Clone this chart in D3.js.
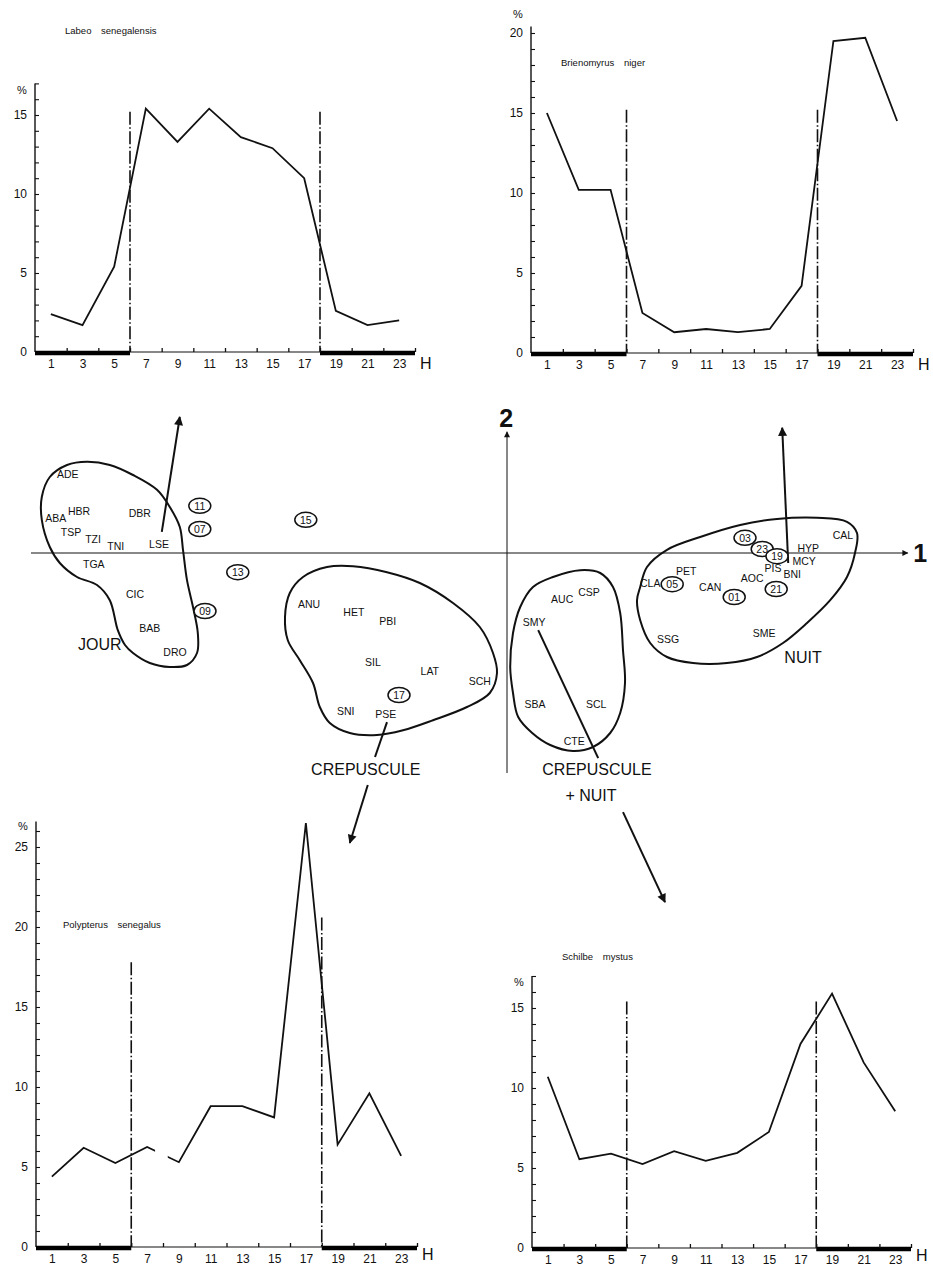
<!DOCTYPE html>
<html>
<head>
<meta charset="utf-8">
<script src="https://cdn.jsdelivr.net/npm/d3@7"></script>
<style>
  body { margin: 0; background: #fff; }
  svg { display: block; font-family: "Liberation Sans", Arial, sans-serif; }
</style>
</head>
<body>
<svg id="fig" width="933" height="1267"></svg>
<script>
"use strict";
// hourly activity, % of catch
const hours = [1, 3, 5, 7, 9, 11, 13, 15, 17, 19, 21, 23];
const evenHours = [2, 4, 6, 8, 10, 12, 14, 16, 18, 20, 22, 24];
const labeo = [2.4, 1.7, 5.4, 15.4, 13.3, 15.4, 13.6, 12.9, 11.0, 2.6, 1.7, 2.0];
const brienomyrus = [15.0, 10.2, 10.2, 2.5, 1.3, 1.5, 1.3, 1.5, 4.2, 19.5, 19.7, 14.5];
const polypterus = [4.4, 6.2, 5.25, 6.25, 5.3, 8.8, 8.8, 8.1, 26.5, 6.4, 9.6, 5.7];
const schilbe = [10.7, 5.55, 5.9, 5.25, 6.05, 5.45, 5.95, 7.25, 12.75, 15.9, 11.6, 8.55];
const polypterusGap = [7.5, 8.3]; // the trace is broken there in the original
const sunrise = 6, sunset = 18;

// factorial plane (axes 1 and 2): species codes
const species = [
  ["ADE", -1.098, 0.198], ["HBR", -1.07, 0.105], ["ABA", -1.128, 0.088], ["DBR", -0.918, 0.10],
  ["TSP", -1.09, 0.053], ["TZI", -1.035, 0.035], ["TNI", -0.978, 0.018], ["LSE", -0.87, 0.023],
  ["TGA", -1.033, -0.028], ["CIC", -0.93, -0.103], ["BAB", -0.893, -0.188], ["DRO", -0.83, -0.248],
  ["ANU", -0.495, -0.128], ["HET", -0.383, -0.148], ["PBI", -0.298, -0.17], ["SIL", -0.335, -0.273],
  ["LAT", -0.193, -0.295], ["SCH", -0.068, -0.32], ["SNI", -0.403, -0.395], ["PSE", -0.303, -0.403],
  ["AUC", 0.138, -0.115], ["CSP", 0.205, -0.098], ["SMY", 0.068, -0.173], ["SBA", 0.07, -0.378],
  ["SCL", 0.223, -0.378], ["CTE", 0.168, -0.47], ["CAL", 0.84, 0.045], ["HYP", 0.753, 0.013],
  ["MCY", 0.743, -0.02], ["PIS", 0.665, -0.038], ["BNI", 0.713, -0.053], ["AOC", 0.613, -0.063],
  ["PET", 0.448, -0.045], ["CLA", 0.358, -0.075], ["CAN", 0.508, -0.085], ["SSG", 0.403, -0.215],
  ["SME", 0.643, -0.2]
];
// hours projected as supplementary points
const hourPoints = [
  ["11", -0.768, 0.118], ["07", -0.768, 0.06], ["13", -0.673, -0.048], ["09", -0.755, -0.145],
  ["15", -0.503, 0.083], ["17", -0.27, -0.355], ["03", 0.595, 0.038], ["23", 0.638, 0.01],
  ["19", 0.675, -0.008], ["05", 0.413, -0.078], ["01", 0.568, -0.11], ["21", 0.673, -0.09]
];
// hand drawn group outlines
const jourOutline = [[-0.973, -0.193], [-0.993, -0.118], [-1.025, -0.08], [-1.075, -0.06], [-1.118, -0.025],
  [-1.143, 0.015], [-1.163, 0.083], [-1.163, 0.14], [-1.143, 0.19], [-1.10, 0.22], [-1.05, 0.228],
  [-0.993, 0.22], [-0.935, 0.195], [-0.875, 0.158], [-0.843, 0.115], [-0.818, 0.065], [-0.81, 0.008],
  [-0.80, -0.068], [-0.785, -0.135], [-0.773, -0.20], [-0.775, -0.25], [-0.80, -0.28], [-0.843, -0.285],
  [-0.893, -0.275], [-0.935, -0.25], [-0.955, -0.23]];
const crepOutline = [[-0.51, -0.06], [-0.45, -0.035], [-0.385, -0.033], [-0.30, -0.048], [-0.218, -0.075],
  [-0.135, -0.125], [-0.068, -0.185], [-0.035, -0.25], [-0.025, -0.30], [-0.043, -0.35], [-0.10, -0.385],
  [-0.185, -0.418], [-0.26, -0.443], [-0.325, -0.455], [-0.393, -0.45], [-0.443, -0.425], [-0.468, -0.385],
  [-0.485, -0.325], [-0.518, -0.268], [-0.548, -0.218], [-0.555, -0.16], [-0.543, -0.10]];
const nuitOutline = [[0.333, -0.085], [0.35, -0.035], [0.40, 0.008], [0.483, 0.04], [0.583, 0.07],
  [0.675, 0.085], [0.775, 0.088], [0.85, 0.078], [0.875, 0.05], [0.87, 0.0], [0.85, -0.06], [0.808, -0.118],
  [0.75, -0.175], [0.69, -0.225], [0.625, -0.26], [0.55, -0.275], [0.465, -0.275], [0.40, -0.26],
  [0.358, -0.225], [0.333, -0.168], [0.325, -0.118]];
const crepNuitOutline = [[0.065, -0.085], [0.115, -0.06], [0.183, -0.043], [0.233, -0.05], [0.265, -0.085],
  [0.283, -0.15], [0.29, -0.243], [0.295, -0.325], [0.283, -0.40], [0.258, -0.45], [0.215, -0.485],
  [0.165, -0.495], [0.108, -0.48], [0.063, -0.45], [0.028, -0.41], [0.015, -0.35], [0.008, -0.285],
  [0.015, -0.20], [0.033, -0.135]];
const groupLabels = [["JOUR", -1.018, -0.228], ["CREPUSCULE", -0.353, -0.54], ["NUIT", 0.74, -0.26],
  ["CREPUSCULE", 0.225, -0.54], ["+ NUIT", 0.21, -0.605]];
// leader lines from a species to its chart: [from, to, arrowhead]
const leaders = [
  [[-0.863, 0.053], [-0.818, 0.34], true],
  [[0.703, -0.025], [0.688, 0.313], true],
  [[-0.30, -0.423], [-0.33, -0.51], false],
  [[-0.348, -0.58], [-0.393, -0.725], true],
  [[0.078, -0.193], [0.228, -0.513], false],
  [[0.29, -0.648], [0.395, -0.873], true]
];

const svg = d3.select("#fig");
svg.append("rect").attr("width", 933).attr("height", 1267).attr("fill", "#fff");

const defs = svg.append("defs");
defs.append("marker").attr("id", "head")
  .attr("viewBox", "0 0 10 10").attr("refX", 9).attr("refY", 5)
  .attr("markerWidth", 12).attr("markerHeight", 9).attr("markerUnits", "userSpaceOnUse")
  .attr("orient", "auto")
  .append("path").attr("d", "M0,0L10,5L0,10Z").attr("fill", "#111");
defs.append("marker").attr("id", "axhead")
  .attr("viewBox", "0 0 10 10").attr("refX", 9).attr("refY", 5)
  .attr("markerWidth", 9).attr("markerHeight", 6).attr("markerUnits", "userSpaceOnUse")
  .attr("orient", "auto")
  .append("path").attr("d", "M0,0L10,5L0,10Z").attr("fill", "#111");

function hourChart(cfg) {
  const g = svg.append("g");
  const x = d3.scaleLinear().domain([0, 24]).range([cfg.left, cfg.right]);
  const y = d3.scaleLinear().domain([0, cfg.yTop]).range([cfg.base, cfg.base - cfg.yTop * cfg.unit]);

  // y axis: a tick per percent, labels every 5
  g.append("line").attr("x1", x(0)).attr("x2", x(0)).attr("y1", y(0)).attr("y2", y(cfg.yTop))
    .attr("stroke", "#111").attr("stroke-width", 1.4);
  const minor = g.append("g").attr("transform", `translate(${x(0)},0)`)
    .call(d3.axisRight(y).tickValues(d3.range(1, Math.floor(cfg.yTop) + 1)).tickSize(4).tickFormat(""));
  minor.select(".domain").remove();
  minor.selectAll("line").attr("stroke", "#111").attr("stroke-width", 1.1);
  const major = g.append("g").attr("transform", `translate(${x(0)},0)`)
    .call(d3.axisLeft(y).tickValues(cfg.labels).tickSize(0).tickPadding(8));
  major.select(".domain").remove();
  major.selectAll("text").attr("font-size", 12).attr("fill", "#111")
    .attr("font-family", "Liberation Sans, Arial, sans-serif");
  g.append("text").attr("x", x(0) - 18).attr("y", y(cfg.pct)).attr("dy", "0.35em")
    .attr("font-size", 11).attr("fill", "#111").text("%");

  // x axis: thin for daylight, thick black bars for night
  g.append("line").attr("x1", x(0)).attr("x2", x(24)).attr("y1", y(0)).attr("y2", y(0))
    .attr("stroke", "#111").attr("stroke-width", 1.1);
  [[0, sunrise], [sunset, 24]].forEach(([a, b]) => {
    g.append("line").attr("x1", x(a)).attr("x2", x(b)).attr("y1", y(0) + 1).attr("y2", y(0) + 1)
      .attr("stroke", "#000").attr("stroke-width", 4.5);
  });
  const xt = g.append("g").attr("transform", `translate(0,${y(0)})`)
    .call(d3.axisTop(x).tickValues(evenHours).tickSize(4).tickFormat(""));
  xt.select(".domain").remove();
  xt.selectAll("line").attr("stroke", "#111").attr("stroke-width", 1.3);
  const xl = g.append("g").attr("transform", `translate(0,${y(0)})`)
    .call(d3.axisBottom(x).tickValues(hours).tickSize(0).tickPadding(7));
  xl.select(".domain").remove();
  xl.selectAll("text").attr("font-size", 12).attr("fill", "#111")
    .attr("font-family", "Liberation Sans, Arial, sans-serif");
  g.append("text").attr("x", x(24) + 5).attr("y", y(0) + cfg.hDrop).attr("dy", "0.35em")
    .attr("font-size", 16).attr("fill", "#111").text("H");

  // sunrise / sunset
  [[sunrise, cfg.dashTop[0]], [sunset, cfg.dashTop[1]]].forEach(([h, top]) => {
    g.append("line").attr("x1", x(h)).attr("x2", x(h)).attr("y1", y(top)).attr("y2", y(0))
      .attr("stroke", "#111").attr("stroke-width", 1.6).attr("stroke-dasharray", "13,2.5,1.5,2.5");
  });

  g.append("text").attr("x", cfg.title[0]).attr("y", cfg.title[1]).attr("dy", "0.35em")
    .attr("font-size", 9.5).attr("fill", "#111").attr("word-spacing", 7).text(cfg.name);

  const pts = hours.map((h, i) => [h, cfg.values[i]]);
  const path = g.append("path").datum(pts)
    .attr("d", d3.line().x(d => x(d[0])).y(d => y(d[1])))
    .attr("fill", "none").attr("stroke", "#111").attr("stroke-width", 1.8)
    .attr("stroke-linejoin", "miter");
  if (cfg.gap) {
    const id = "clip" + cfg.left;
    const cp = defs.append("clipPath").attr("id", id);
    cp.append("rect").attr("x", 0).attr("y", 0).attr("width", x(cfg.gap[0])).attr("height", 1267);
    cp.append("rect").attr("x", x(cfg.gap[1])).attr("y", 0).attr("width", 933).attr("height", 1267);
    path.attr("clip-path", `url(#${id})`);
  }
}

hourChart({ name: "Labeo senegalensis", values: labeo, left: 35, right: 415, base: 352, unit: 15.8,
  yTop: 17, labels: [0, 5, 10, 15], pct: 16.6, dashTop: [15.2, 15.2], title: [65, 31], hDrop: 11 });
hourChart({ name: "Brienomyrus niger", values: brienomyrus, left: 531, right: 913, base: 353, unit: 16,
  yTop: 20.4, labels: [0, 5, 10, 15, 20], pct: 21.2, dashTop: [15.2, 15.2], title: [561, 63], hDrop: 11 });
hourChart({ name: "Polypterus senegalus", values: polypterus, left: 36, right: 417, base: 1247, unit: 16,
  yTop: 26.6, labels: [0, 5, 10, 15, 20, 25], pct: 26.3, dashTop: [17.8, 20.6], title: [63, 925],
  gap: polypterusGap, hDrop: 7 });
hourChart({ name: "Schilbe mystus", values: schilbe, left: 532, right: 911, base: 1248, unit: 16,
  yTop: 17, labels: [0, 5, 10, 15], pct: 16.6, dashTop: [15.4, 15.4], title: [562, 957], hDrop: 7 });

// ---- factorial plane ----
const fx = d3.scaleLinear().domain([-1.2, 1.0]).range([27, 907]);
const fy = d3.scaleLinear().domain([-0.55, 0.35]).range([773, 413]);
const plane = svg.append("g");

plane.append("line").attr("x1", fx(-1.19)).attr("x2", fx(1.002)).attr("y1", fy(0)).attr("y2", fy(0))
  .attr("stroke", "#111").attr("stroke-width", 1).attr("marker-end", "url(#axhead)");
plane.append("line").attr("x1", fx(0)).attr("x2", fx(0)).attr("y1", fy(-0.55)).attr("y2", fy(0.303))
  .attr("stroke", "#111").attr("stroke-width", 1).attr("marker-end", "url(#axhead)");
plane.append("text").attr("x", fx(1.033)).attr("y", fy(0)).attr("dy", "0.36em").attr("text-anchor", "middle")
  .attr("font-size", 25).attr("font-weight", "bold").attr("fill", "#111").text("1");
plane.append("text").attr("x", fx(-0.002)).attr("y", fy(0.338)).attr("dy", "0.36em").attr("text-anchor", "middle")
  .attr("font-size", 25).attr("font-weight", "bold").attr("fill", "#111").text("2");

const outline = d3.line().x(d => fx(d[0])).y(d => fy(d[1])).curve(d3.curveCatmullRomClosed.alpha(0.5));
[jourOutline, crepOutline, nuitOutline, crepNuitOutline].forEach(o => {
  plane.append("path").attr("d", outline(o)).attr("fill", "none")
    .attr("stroke", "#111").attr("stroke-width", 2);
});

leaders.forEach(([a, b, head]) => {
  const l = plane.append("line").attr("x1", fx(a[0])).attr("y1", fy(a[1]))
    .attr("x2", fx(b[0])).attr("y2", fy(b[1])).attr("stroke", "#111").attr("stroke-width", 2);
  if (head) l.attr("marker-end", "url(#head)");
});

plane.selectAll(".sp").data(species).join("text").attr("class", "sp")
  .attr("x", d => fx(d[1])).attr("y", d => fy(d[2])).attr("dy", "0.36em")
  .attr("text-anchor", "middle").attr("font-size", 10.5).attr("fill", "#111").text(d => d[0]);

const hp = plane.selectAll(".hp").data(hourPoints).join("g").attr("class", "hp")
  .attr("transform", d => `translate(${fx(d[1])},${fy(d[2])})`);
hp.append("ellipse").attr("rx", 11).attr("ry", 7.5).attr("fill", "#fff")
  .attr("stroke", "#111").attr("stroke-width", 1.5);
hp.append("text").attr("dy", "0.36em").attr("text-anchor", "middle")
  .attr("font-size", 10.5).attr("fill", "#111").text(d => d[0]);

plane.selectAll(".gl").data(groupLabels).join("text").attr("class", "gl")
  .attr("x", d => fx(d[1])).attr("y", d => fy(d[2])).attr("dy", "0.36em")
  .attr("text-anchor", "middle").attr("font-size", 16).attr("fill", "#111").text(d => d[0]);
</script>
</body>
</html>
